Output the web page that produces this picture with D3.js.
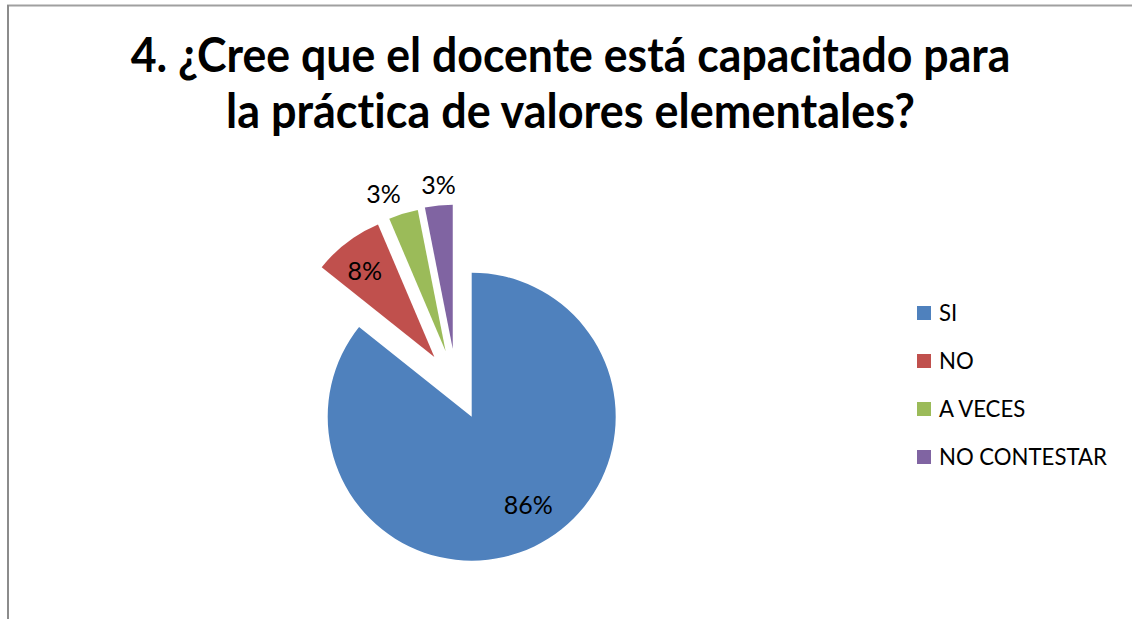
<!DOCTYPE html>
<html><head><meta charset="utf-8">
<script src="https://cdn.jsdelivr.net/npm/d3@7"></script>
<style>html,body{margin:0;padding:0;background:#fff;}svg{display:block;}text{font-variant-ligatures:none;font-feature-settings:"liga" 0;}</style>
</head><body>
<svg id="chart" width="1132" height="619"></svg>
<script>
// ---- data ----
const titleLines = ["4. ¿Cree que el docente está capacitado para", "la práctica de valores elementales?"];
const categories = ["SI", "NO", "A VECES", "NO CONTESTAR"];
const values = [85.7, 7.9, 3.3, 3.1];
const labels = ["86%", "8%", "3%", "3%"];
const colors = ["#4F81BD", "#C0504D", "#9BBB59", "#8064A2"];

// ---- style / layout ----
const FONT = "Lato, 'Open Sans', 'Liberation Sans', sans-serif";
const cx = 471.7, cy = 416.7, R = 144;
const explodeDist = [0, 70.5, 70.5, 70.5];
const explodeDeg = [0, -32, -21.7, -15.6];
const labelDist = [105, 110.6, 169, 164.3];
const labelDeg = [147.4, -38.9, -21.6, -5.0];

const svg = d3.select("#chart");
svg.append("rect").attr("width", 1132).attr("height", 619).attr("fill", "#fff");
// frame (top + left visible)
svg.append("line").attr("x1", 7).attr("x2", 1132).attr("y1", 5.5).attr("y2", 5.5)
  .attr("stroke", "#a0a0a0").attr("stroke-width", 2);
svg.append("line").attr("x1", 8).attr("x2", 8).attr("y1", 5).attr("y2", 619)
  .attr("stroke", "#8c8c8c").attr("stroke-width", 2);

function fitText(sel, target) {
  const w = sel.node().getComputedTextLength();
  const fs = parseFloat(sel.attr("font-size"));
  sel.attr("font-size", fs * target / w);
}

// title
const titleBase = [72, 128];
const titleW = [880, 689];
titleLines.forEach((t, i) => {
  const tx = svg.append("text").attr("x", 570.5).attr("y", titleBase[i])
    .attr("text-anchor", "middle").attr("font-family", FONT).attr("font-weight", "bold")
    .attr("font-size", 40).attr("fill", "#000").text(t);
  fitText(tx, titleW[i]);
  tx.attr("transform", `translate(0,${titleBase[i]}) scale(1,1.08) translate(0,${-titleBase[i]})`);
});

// pie
const pie = d3.pie().sort(null).value(d => d)(values);
const arc = d3.arc().innerRadius(0).outerRadius(R);
const rad = d => d * Math.PI / 180;
const g = svg.append("g");
pie.forEach((p, i) => {
  const ox = explodeDist[i] * Math.sin(rad(explodeDeg[i]));
  const oy = -explodeDist[i] * Math.cos(rad(explodeDeg[i]));
  g.append("path").attr("d", arc(p))
    .attr("transform", `translate(${cx + ox},${cy + oy})`)
    .attr("fill", colors[i]);
  const lx = cx + ox + labelDist[i] * Math.sin(rad(labelDeg[i]));
  const ly = cy + oy - labelDist[i] * Math.cos(rad(labelDeg[i]));
  g.append("text").attr("x", lx).attr("y", ly + 9)
    .attr("text-anchor", "middle").attr("font-family", FONT)
    .attr("font-size", 25).attr("fill", "#000").text(labels[i]);
});

// legend
const legY = d3.scaleBand().domain(categories).range([289, 481]);
const legTexts = [];
categories.forEach((c, i) => {
  const yc = legY(c) + legY.bandwidth() / 2;
  svg.append("rect").attr("x", 917).attr("y", yc - 7).attr("width", 14).attr("height", 14)
    .attr("fill", colors[i]);
  const t = svg.append("text").attr("x", 939).attr("y", yc + 8)
    .attr("font-family", FONT).attr("font-size", 21).attr("fill", "#000").text(c);
  legTexts.push(t);
});
fitText(legTexts[3], 168);
const fsL = legTexts[3].attr("font-size");
legTexts.forEach(t => t.attr("font-size", fsL));
</script>
</body></html>
